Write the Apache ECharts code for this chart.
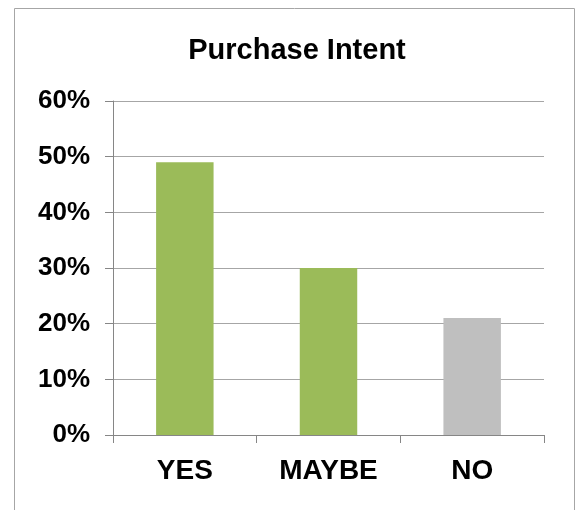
<!DOCTYPE html>
<html>
<head>
<meta charset="utf-8">
<script src="https://cdn.jsdelivr.net/npm/echarts@6/dist/echarts.min.js"></script>
<style>
  html, body { margin: 0; padding: 0; background: #fff; }
  #chart { width: 578px; height: 510px; }
</style>
</head>
<body>
<div id="chart"></div>
<script>
// Purchase intent survey results
const categories = ['YES', 'MAYBE', 'NO'];
const shares = [49, 30, 21];
const barColors = ['#9BBB59', '#9BBB59', '#BFBFBF'];
const yTicks = [0, 10, 20, 30, 40, 50, 60];

const chart = echarts.init(document.getElementById('chart'), null, { renderer: 'canvas' });
const font = 'Arial, "Liberation Sans", sans-serif';

chart.setOption({
  animation: false,
  backgroundColor: '#ffffff',
  title: {
    text: 'Purchase Intent',
    left: 292,
    textAlign: 'center',
    top: 31,
    textStyle: { fontFamily: font, fontWeight: 'bold', fontSize: 29, color: '#000' }
  },
  graphic: [{
    type: 'rect',
    silent: true,
    shape: { x: 14.5, y: 8.5, width: 560, height: 600 },
    style: { fill: 'none', stroke: '#a6a6a6', lineWidth: 1 }
  }],
  grid: { left: 113, right: 34, top: 101, bottom: 75, containLabel: false },
  xAxis: {
    type: 'category',
    data: categories,
    axisLine: { lineStyle: { color: '#868686', width: 1 } },
    axisTick: { show: true, length: 8, lineStyle: { color: '#868686' } },
    axisLabel: {
      margin: 22,
      fontFamily: font, fontWeight: 'bold', fontSize: 28, color: '#000'
    }
  },
  yAxis: {
    type: 'value',
    min: yTicks[0],
    max: yTicks[yTicks.length - 1],
    interval: 10,
    axisLine: { show: true, lineStyle: { color: '#868686', width: 1 } },
    axisTick: { show: true, length: 8, lineStyle: { color: '#868686' } },
    splitLine: { show: true, lineStyle: { color: '#a6a6a6', width: 1 } },
    axisLabel: {
      margin: 23,
      formatter: v => v + '%',
      fontFamily: font, fontWeight: 'bold', fontSize: 26, color: '#000'
    }
  },
  series: [{
    type: 'bar',
    barWidth: '40%',
    data: shares.map((v, i) => ({ value: v, itemStyle: { color: barColors[i] } }))
  }]
});
</script>
</body>
</html>
